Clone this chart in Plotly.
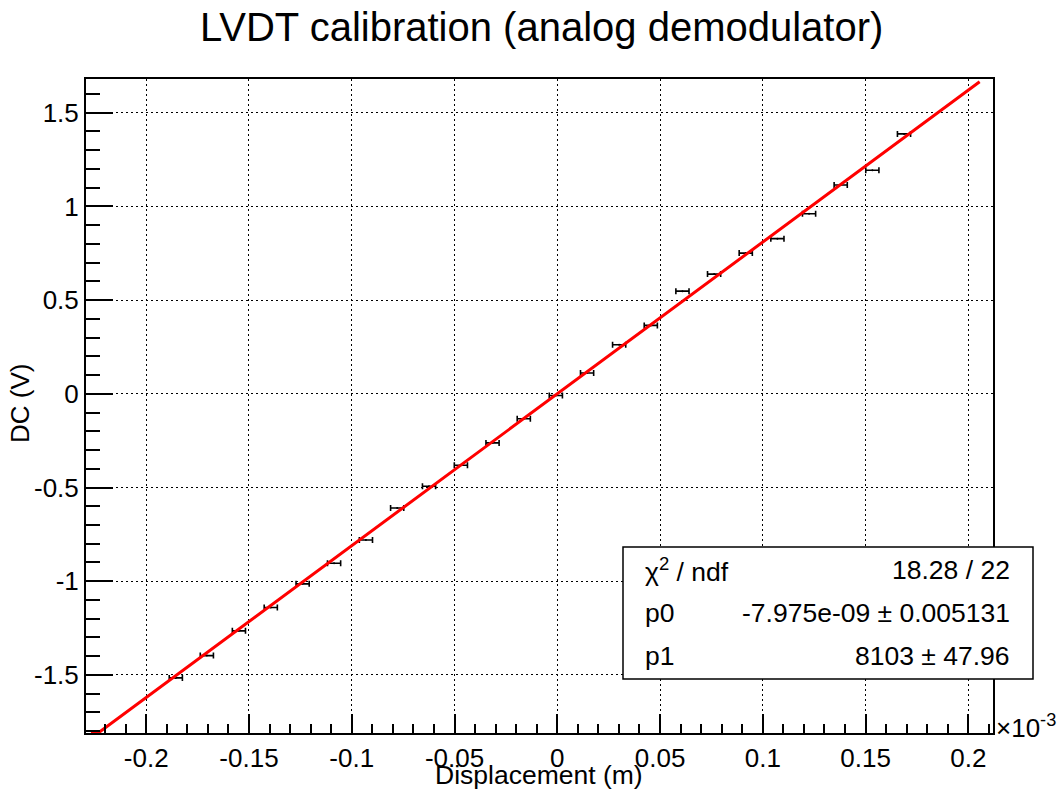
import numpy as np
import plotly.graph_objects as go

# ---- data (displacement in units of 1e-3 m, DC output in V) ----
displacement = [-0.1856, -0.1705, -0.1549, -0.1394, -0.1239, -0.1086, -0.0931, -0.0779,
                -0.0624, -0.0469, -0.0315, -0.0163, -0.0007, 0.0145, 0.0301, 0.0455,
                0.0609, 0.0763, 0.0917, 0.1071, 0.1225, 0.1379, 0.1533, 0.1687]
dc_volts = [-1.516, -1.397, -1.265, -1.140, -1.014, -0.904, -0.780, -0.609,
            -0.493, -0.381, -0.262, -0.133, -0.009, 0.111, 0.262, 0.365,
            0.548, 0.639, 0.751, 0.828, 0.961, 1.114, 1.193, 1.387]
displacement_err = [0.0032] * len(displacement)

# fit result (pol1)
p0 = -7.975e-09
p1 = 8103.0           # V/m
fit_range = [-0.2269, 0.2055]   # 1e-3 m

x_tickvals = [-0.2, -0.15, -0.1, -0.05, 0, 0.05, 0.1, 0.15, 0.2]
x_ticktext = ["-0.2", "-0.15", "-0.1", "-0.05", "0", "0.05", "0.1", "0.15", "0.2"]
y_tickvals = [-1.5, -1, -0.5, 0, 0.5, 1, 1.5]
y_ticktext = ["-1.5", "-1", "-0.5", "0", "0.5", "1", "1.5"]

stats_labels = ["χ<sup>2</sup> / ndf", "p0", "p1"]
stats_values = ["18.28 / 22", "-7.975e-09 ± 0.005131", "8103 ± 47.96"]

x_range = [-0.2293, 0.2120]
y_range = [-1.810, 1.680]

# ---- layout geometry (pixels) ----
W, H = 1064, 796
L, R, T, B = 86, 993, 79, 733
FONT = "Liberation Sans, Arial, Helvetica, sans-serif"

def px(x):
    return (x - L) / (R - L)

def py(y):
    return (B - y) / (B - T)

fig = go.Figure()

fig.add_trace(go.Scatter(
    x=displacement, y=dc_volts, mode="markers",
    marker=dict(size=2, color="black"),
    error_x=dict(type="data", array=displacement_err, visible=True,
                 color="black", thickness=1.6, width=3),
    showlegend=False, hoverinfo="x+y"))

xf = np.linspace(fit_range[0], fit_range[1], 200)
yf = np.clip(p0 + p1 * 1e-3 * xf, y_range[0], y_range[1])
fig.add_trace(go.Scatter(x=xf, y=yf, mode="lines",
                         line=dict(color="#ff0000", width=3),
                         showlegend=False, hoverinfo="skip"))

axis_common = dict(
    showline=True, linecolor="black", linewidth=2, mirror=True,
    showgrid=True, gridcolor="black", gridwidth=1, griddash="2px,3px",
    zeroline=False, ticks="inside", tickcolor="black", tickwidth=1.5,
    tickfont=dict(family=FONT, size=26, color="black"),
)

fig.update_xaxes(**axis_common, range=x_range, tickmode="array",
                 tickvals=x_tickvals, ticktext=x_ticktext, ticklen=19,
                 ticklabelstandoff=1,
                 minor=dict(ticks="inside", ticklen=9, tickmode="linear", tick0=0,
                            dtick=0.01, tickcolor="black", tickwidth=1.5, showgrid=False))
fig.update_yaxes(**axis_common, range=y_range, tickmode="array",
                 tickvals=y_tickvals, ticktext=y_ticktext, ticklen=27,
                 ticklabelstandoff=0,
                 minor=dict(ticks="inside", ticklen=14, tickmode="linear", tick0=0,
                            dtick=0.1, tickcolor="black", tickwidth=1.5, showgrid=False))

annotations = [
    dict(text="LVDT calibration (analog demodulator)", x=px(541), y=py(27),
         xanchor="center", yanchor="middle", font=dict(size=40)),
    dict(text="Displacement (m)", x=px(539), y=py(775),
         xanchor="center", yanchor="middle", font=dict(size=26.5)),
    dict(text="DC (V)", x=px(20), y=py(404), textangle=-90,
         xanchor="center", yanchor="middle", font=dict(size=26)),
    dict(text="×10<sup>-3</sup>", x=px(994), y=py(726),
         xanchor="left", yanchor="middle", font=dict(size=26)),
]
rows_y = [570, 613, 656]
for lab, val, yy in zip(stats_labels, stats_values, rows_y):
    annotations.append(dict(text=lab, x=px(643), y=py(yy), xanchor="left",
                            yanchor="middle", font=dict(size=26.5)))
    annotations.append(dict(text=val, x=px(1012), y=py(yy), xanchor="right",
                            yanchor="middle", font=dict(size=26.5)))
for a in annotations:
    a.update(xref="paper", yref="paper", showarrow=False)
    a["font"].update(family=FONT, color="black")

fig.update_layout(
    width=W, height=H,
    margin=dict(l=L, r=W - R, t=T, b=H - B),
    paper_bgcolor="white", plot_bgcolor="white",
    annotations=annotations,
    shapes=[dict(type="rect", xref="paper", yref="paper",
                 x0=px(623), x1=px(1033), y0=py(679), y1=py(547),
                 line=dict(color="black", width=1.5), fillcolor="white", layer="above")],
)

fig.write_html("out.html")
